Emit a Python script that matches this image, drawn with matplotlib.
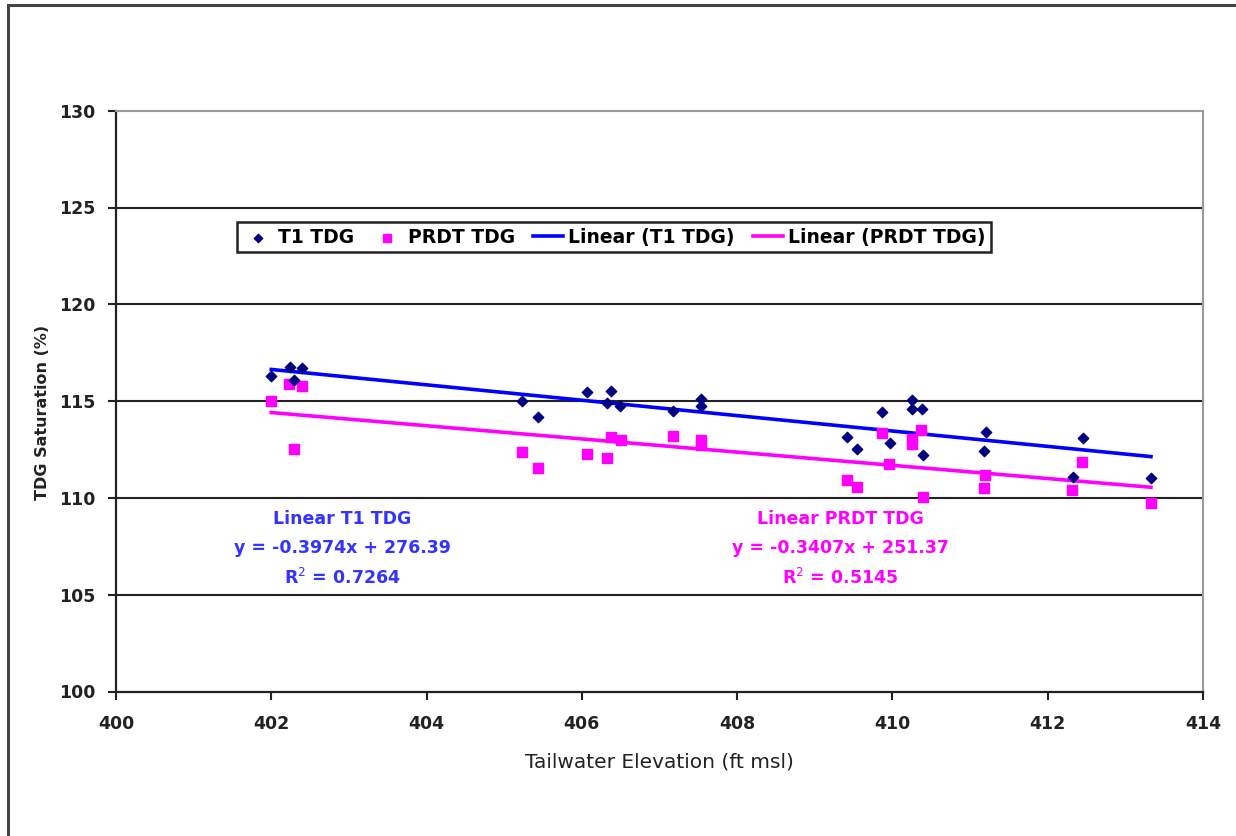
import matplotlib
matplotlib.use('Agg')
import matplotlib.pyplot as plt
import matplotlib.patches as mpatches
import numpy as np

plt.rcParams['font.family'] = ['DejaVu Sans']

# T1 TDG points (tailwater elevation, % saturation)
t1_x = [402.00, 402.24, 402.29, 402.40, 405.23, 405.44, 406.07, 406.33, 406.37,
        406.49, 407.17, 407.54, 407.54, 409.41, 409.55, 409.87, 409.97, 410.25,
        410.25, 410.38, 410.39, 411.18, 411.20, 412.33, 412.45, 413.33]
t1_y = [116.30, 116.75, 116.10, 116.70, 115.00, 114.20, 115.45, 114.90, 115.50,
        114.75, 114.50, 115.10, 114.75, 113.15, 112.55, 114.45, 112.85, 115.05,
        114.60, 114.60, 112.20, 112.40, 113.40, 111.10, 113.10, 111.05]

# PRDT TDG points
prdt_x = [402.00, 402.23, 402.29, 402.40, 405.23, 405.44, 406.07, 406.32, 406.37,
          406.50, 407.18, 407.54, 407.54, 409.41, 409.55, 409.86, 409.95, 410.25,
          410.25, 410.37, 410.39, 411.18, 411.19, 412.31, 412.44, 413.33]
prdt_y = [115.00, 115.90, 112.55, 115.80, 112.35, 111.55, 112.25, 112.05, 113.15,
          113.00, 113.20, 113.00, 112.75, 110.90, 110.55, 113.35, 111.75, 113.05,
          112.80, 113.50, 110.05, 110.50, 111.20, 110.40, 111.85, 109.75]

# trendline coefficients (slope, intercept, r2) as printed on the chart
t1_fit = (-0.3974, 276.39, 0.7264)
prdt_fit = (-0.3407, 251.37, 0.5145)

x_ticks = [400, 402, 404, 406, 408, 410, 412, 414]
y_ticks = [100, 105, 110, 115, 120, 125, 130]

fig = plt.figure(figsize=(12.36, 8.36), dpi=100)
ax = fig.add_axes([116/1236, 1 - 691.5/836, (1203 - 116)/1236, (691.5 - 110.7)/836])

# outer chart frame
fig.patches.append(mpatches.Rectangle((8/1236, -0.01), 1.0, 1 - 5/836 + 0.01,
                                      transform=fig.transFigure, fill=False,
                                      edgecolor='#444444', linewidth=2.2))

ax.set_xlim(400, 414)
ax.set_ylim(100, 130)
ax.set_xticks(x_ticks)
ax.set_yticks(y_ticks)

for yv in y_ticks[1:-1]:
    ax.axhline(yv, color='#222222', linewidth=1.5, zorder=1)

ax.spines['left'].set_color('#222222')
ax.spines['bottom'].set_color('#222222')
ax.spines['left'].set_linewidth(1.6)
ax.spines['bottom'].set_linewidth(1.6)
ax.spines['top'].set_color('#9a9a9a')
ax.spines['right'].set_color('#9a9a9a')
ax.spines['top'].set_linewidth(1.5)
ax.spines['right'].set_linewidth(1.5)

ax.tick_params(axis='both', direction='out', length=6, width=1.5, color='#222222',
               labelsize=12.5)
ax.tick_params(axis='x', pad=11)
ax.tick_params(axis='y', pad=9)
for lbl in ax.get_xticklabels() + ax.get_yticklabels():
    lbl.set_fontweight('bold')
    lbl.set_color('#222222')

ax.scatter(t1_x, t1_y, marker='D', s=28, color='#000080', zorder=4, label='T1 TDG')
ax.scatter(prdt_x, prdt_y, marker='s', s=50, color='#ff00ff', zorder=3, label='PRDT TDG')

xs = np.array([min(t1_x), max(t1_x)])
ax.plot(xs, t1_fit[0] * xs + t1_fit[1], color='#0000ff', linewidth=2.6, zorder=2,
        label='Linear (T1 TDG)')
xs2 = np.array([min(prdt_x), max(prdt_x)])
ax.plot(xs2, prdt_fit[0] * xs2 + prdt_fit[1], color='#ff00ff', linewidth=2.6, zorder=2,
        label='Linear (PRDT TDG)')

ax.text(402.91, 109.35, 'Linear T1 TDG\ny = %.4fx + %.2f\nR$^2$ = %.4f' % t1_fit,
        color='#3333ff', fontsize=12.5, fontweight='bold', ha='center', va='top',
        linespacing=1.72)
ax.text(409.33, 109.35, 'Linear PRDT TDG\ny = %.4fx + %.2f\nR$^2$ = %.4f' % prdt_fit,
        color='#ff00ff', fontsize=12.5, fontweight='bold', ha='center', va='top',
        linespacing=1.72)

leg = ax.legend(loc='upper left', bbox_to_anchor=(0.1113, 0.8084), ncol=4,
                frameon=True, fancybox=False, shadow=False,
                prop={'weight': 'bold', 'size': 13.5}, handlelength=1.6,
                handletextpad=0.3, columnspacing=0.95, borderpad=0.3,
                borderaxespad=0, markerscale=0.8)
leg.get_frame().set_edgecolor('#222222')
leg.get_frame().set_linewidth(1.8)
leg.get_frame().set_alpha(1)

ax.set_xlabel('Tailwater Elevation (ft msl)', fontsize=14.5, color='#222222', labelpad=14)
ax.set_ylabel('TDG Saturation (%)', fontsize=11.5, fontweight='bold', color='#222222')
ax.yaxis.set_label_coords(-0.0607, 0.481)

fig.savefig('out.png', dpi=100, facecolor='white')
